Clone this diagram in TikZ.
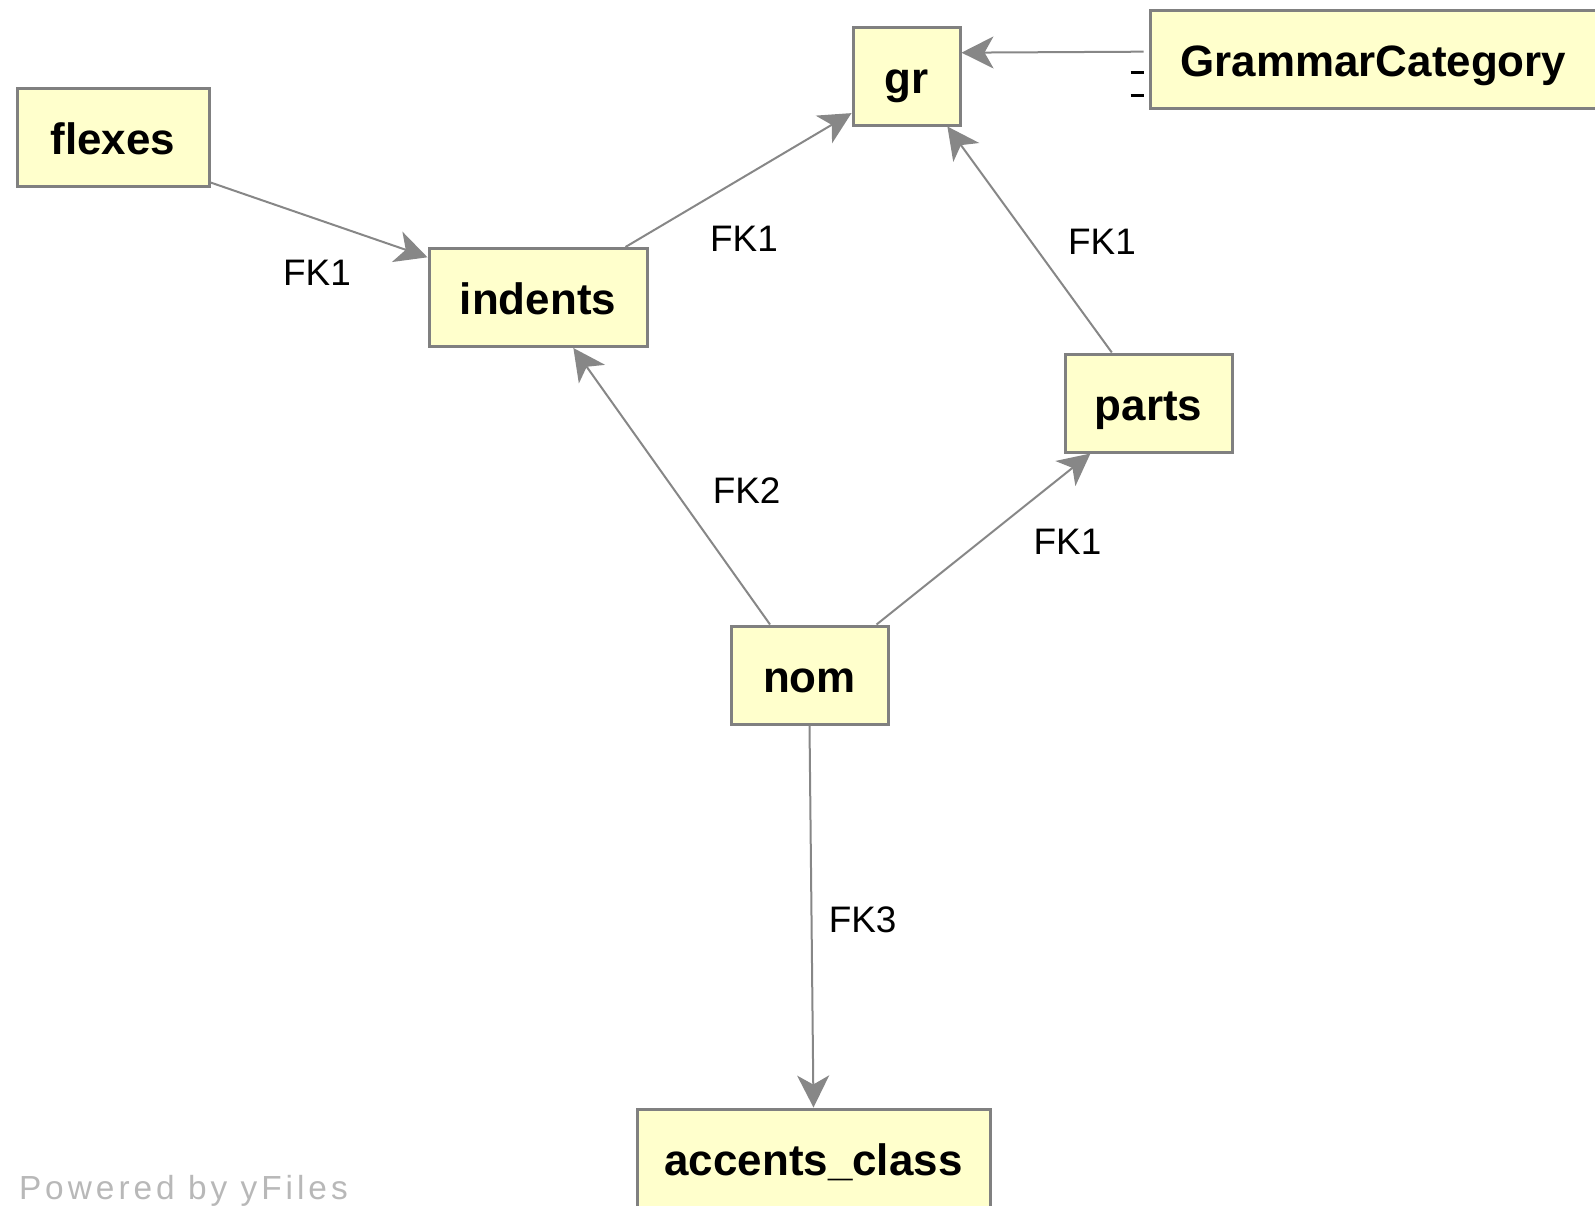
\documentclass[tikz,border=0pt]{standalone}
\usepackage{fontspec}
\setmainfont{Liberation Sans}
\newfontfamily\yfont[LetterSpace=12]{Liberation Sans}
\usetikzlibrary{arrows.meta}
\definecolor{tablefill}{RGB}{255,255,204}
\definecolor{tableline}{RGB}{128,128,128}
\definecolor{fkline}{RGB}{135,135,135}
\def\pxu{0.02cm}

\begin{document}
\begin{tikzpicture}[x=\pxu,y=-\pxu,->,>={Stealth[length=32*\pxu,width=32*\pxu,inset=9*\pxu]},draw=fkline,line width=2*\pxu]
    \tikzstyle{table}=[rectangle,draw=tableline,fill=tablefill,line width=3*\pxu,minimum height=98*\pxu,inner sep=0pt,text height=20pt,text depth=0.2pt,font=\fontsize{25}{30}\selectfont\bfseries]
    \tikzstyle{fk}=[font=\fontsize{21}{25}\selectfont,inner sep=0pt]
    \tikzstyle{brand}=[anchor=west,text=black!28,inner sep=0pt,font=\yfont\fontsize{19}{22}\selectfont]

    \useasboundingbox (0,0) rectangle (1595,1205);

    % Draw the tables
    \foreach \name/\x/\y/\w in {flexes/113/137/192, gr/906.5/76/107, indents/538/297.5/218, parts/1148.5/403/167, nom/809.5/675/157}
        \node[table,minimum width=\w*\pxu] (\name) at (\x,\y) {\name};
    \node[table,minimum width=447*\pxu] (GrammarCategory) at (1373.5,59.5) {GrammarCategory};
    \node[table,minimum width=353*\pxu] (accents) at (813.5,1158) {accents\_class};

    % Connect the foreign keys
    \foreach \source/\dest in {flexes.-25/indents.160, indents.30/gr.214, nom.128/indents.-55, nom.37/parts.221, parts.126/gr.-51, nom.south/accents.north}
        \path (\source) edge (\dest);
    \path (GrammarCategory.178) edge[shorten <=5*\pxu] (gr.23);
    \draw[-,black,line width=3*\pxu] ([shift={(-18,12.5)}]GrammarCategory.west) -- ++(13,0)
        ([shift={(-18,35.5)}]GrammarCategory.west) -- ++(13,0);

    % Label the foreign keys
    \foreach \name/\x/\y/\txt in {fk-fi/317/273/FK1, fk-ig/744/239/FK1, fk-pg/1102/242/FK1, fk-ni/746.6/491/FK2, fk-np/1067.5/542/FK1, fk-na/862.6/920/FK3}
        \node[fk] (\name) at (\x,\y) {\txt};

    \node[brand] (powered) at (18,1191) {Powered by yFiles};
\end{tikzpicture}
\end{document}
